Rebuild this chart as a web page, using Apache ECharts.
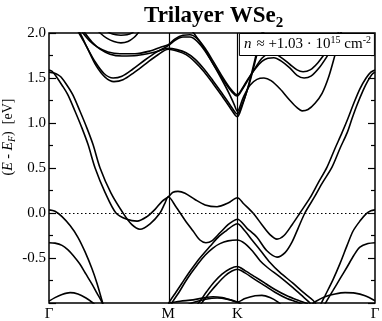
<!DOCTYPE html>
<html>
<head>
<meta charset="utf-8">
<script src="https://cdn.jsdelivr.net/npm/echarts@6/dist/echarts.min.js"></script>
<style>
  html, body { margin: 0; padding: 0; background: #fff; }
  #bands { width: 382px; height: 321px; }
</style>
</head>
<body>
<div id="bands"></div>
<script>
// k path in units of 2pi/a : Gamma - M - K - Gamma
var kTicks = [0, 0.577, 0.911, 1.577];
var kLabels = ['Γ', 'M', 'K', 'Γ'];

// bands, [k, E - EF (eV)]
var c1a = [[0,1.59],[0.015,1.575],[0.034,1.52],[0.063,1.42],[0.092,1.31],[0.126,1.13],[0.160,0.94],[0.189,0.76],[0.223,0.50],[0.271,0.23],[0.324,0.0],[0.377,-0.07],[0.426,-0.09],[0.474,-0.04],[0.513,0.04],[0.547,0.13],[0.577,0.18],
  [0.600,0.23],[0.624,0.24],[0.658,0.22],[0.706,0.15],[0.755,0.09],[0.813,0.07],[0.866,0.11],[0.911,0.17],
  [0.943,0.10],[0.987,0.0],[1.030,-0.13],[1.069,-0.24],[1.103,-0.29],[1.137,-0.25],[1.176,-0.13],[1.214,0.0],[1.263,0.17],[1.301,0.33],[1.345,0.51],[1.384,0.72],[1.417,0.89],[1.446,1.05],[1.471,1.2],[1.504,1.38],[1.534,1.50],[1.557,1.565],[1.577,1.59]];
var c1b = [[0,1.565],[0.024,1.555],[0.044,1.535],[0.058,1.51],[0.087,1.42],[0.116,1.31],[0.150,1.13],[0.184,0.94],[0.213,0.76],[0.247,0.50],[0.300,0.22],[0.358,0.0],[0.401,-0.13],[0.440,-0.18],[0.489,-0.12],[0.537,0.0],[0.561,0.11],[0.577,0.18],
  [0.614,0.07],[0.658,-0.08],[0.697,-0.20],[0.730,-0.30],[0.759,-0.33],[0.788,-0.31],[0.827,-0.22],[0.866,-0.13],[0.890,-0.09],[0.911,-0.07],
  [0.958,-0.17],[1.006,-0.27],[1.054,-0.42],[1.103,-0.49],[1.142,-0.44],[1.176,-0.32],[1.205,-0.17],[1.238,0.0],[1.282,0.17],[1.321,0.33],[1.369,0.51],[1.408,0.72],[1.442,0.89],[1.466,1.05],[1.490,1.2],[1.519,1.36],[1.543,1.47],[1.562,1.54],[1.577,1.565]];

var vg1 = [[0,0.035],[0.029,0.02],[0.063,-0.04],[0.102,-0.14],[0.140,-0.27],[0.174,-0.43],[0.208,-0.62],[0.232,-0.78],[0.256,-0.97],[0.266,-1.05]];
var vg1r = [[1.311,-1.03],[1.335,-0.92],[1.374,-0.74],[1.408,-0.56],[1.442,-0.36],[1.471,-0.20],[1.504,-0.09],[1.534,-0.01],[1.557,0.025],[1.577,0.035]];
var vg2 = [[0,-0.33],[0.029,-0.335],[0.063,-0.36],[0.092,-0.41],[0.116,-0.47],[0.150,-0.57],[0.179,-0.68],[0.208,-0.79],[0.232,-0.89],[0.256,-0.99],[0.266,-1.05]];
var vg2r = [[1.330,-1.03],[1.345,-0.97],[1.374,-0.86],[1.408,-0.73],[1.442,-0.6],[1.475,-0.47],[1.504,-0.38],[1.543,-0.34],[1.577,-0.33]];
var vg3 = [[0,-0.98],[0.029,-0.94],[0.063,-0.905],[0.102,-0.885],[0.140,-0.90],[0.179,-0.945],[0.213,-1.0],[0.227,-1.03]];
var vg3r = [[1.263,-1.03],[1.292,-0.98],[1.335,-0.93],[1.384,-0.90],[1.432,-0.885],[1.480,-0.89],[1.529,-0.92],[1.577,-0.975]];

var v1a = [[0.571,-1.05],[0.585,-0.98],[0.614,-0.88],[0.643,-0.78],[0.672,-0.68],[0.697,-0.6],[0.730,-0.5],[0.779,-0.37],[0.818,-0.27],[0.861,-0.19],[0.890,-0.14],[0.911,-0.12],
  [0.948,-0.2],[0.982,-0.3],[1.021,-0.41],[1.069,-0.55],[1.117,-0.66],[1.180,-0.78],[1.229,-0.88],[1.277,-0.97],[1.296,-1.03]];
var v1b = [[0.585,-1.05],[0.600,-0.98],[0.629,-0.88],[0.658,-0.77],[0.687,-0.67],[0.716,-0.58],[0.755,-0.47],[0.793,-0.39],[0.827,-0.34],[0.866,-0.31],[0.911,-0.30],
  [0.948,-0.34],[0.987,-0.43],[1.021,-0.53],[1.054,-0.60],[1.117,-0.71],[1.180,-0.83],[1.229,-0.93],[1.258,-0.99],[1.272,-1.04]];
var v2a = [[0.706,-1.05],[0.730,-0.98],[0.764,-0.87],[0.798,-0.77],[0.837,-0.68],[0.876,-0.62],[0.911,-0.595],
  [0.948,-0.64],[0.997,-0.71],[1.045,-0.78],[1.093,-0.85],[1.151,-0.92],[1.205,-0.97],[1.253,-1.01]];
var v2b = [[0.721,-1.05],[0.745,-0.98],[0.779,-0.88],[0.813,-0.79],[0.851,-0.70],[0.885,-0.645],[0.911,-0.625],
  [0.948,-0.665],[0.997,-0.74],[1.045,-0.81],[1.093,-0.88],[1.151,-0.95],[1.200,-0.99],[1.238,-1.03]];
var vb1 = [[0.577,-1.0],[0.634,-0.98],[0.697,-0.965],[0.755,-0.94],[0.793,-0.93],[0.837,-0.94],[0.876,-0.965],[0.911,-0.99],
  [0.948,-0.95],[0.997,-0.92],[1.030,-0.915],[1.069,-0.94],[1.108,-0.99],[1.127,-1.03]];
var vb2 = [[0.658,-1.03],[0.706,-0.99],[0.764,-0.955],[0.813,-0.945],[0.866,-0.96],[0.911,-0.99],[0.939,-1.03]];

var c2a = [[0.131,2.05],[0.145,2.0],[0.179,1.86],[0.223,1.68],[0.266,1.55],[0.310,1.50],[0.353,1.52],[0.406,1.60],[0.464,1.70],[0.522,1.79],[0.577,1.86],
  [0.610,1.92],[0.648,1.955],[0.682,1.955],[0.716,1.91],[0.755,1.80],[0.793,1.66],[0.837,1.50],[0.876,1.37],[0.900,1.31],[0.911,1.30],
  [0.934,1.37],[0.963,1.48],[0.997,1.61],[1.030,1.72],[1.059,1.765],[1.088,1.77],[1.122,1.73],[1.166,1.65],[1.200,1.59],[1.229,1.57],[1.263,1.59],[1.301,1.67],[1.340,1.79],[1.374,1.91],[1.398,2.0],[1.413,2.05]];
var c3a = [[0.150,2.05],[0.164,2.0],[0.198,1.91],[0.237,1.84],[0.285,1.79],[0.343,1.77],[0.416,1.77],[0.489,1.80],[0.537,1.84],[0.577,1.87],
  [0.610,1.935],[0.648,1.975],[0.682,1.98],[0.716,1.94],[0.755,1.83],[0.793,1.69],[0.837,1.52],[0.876,1.385],[0.900,1.325],[0.911,1.315],
  [0.934,1.38],[0.963,1.49],[0.997,1.60],[1.030,1.685],[1.059,1.72],[1.088,1.725],[1.122,1.69],[1.166,1.61],[1.200,1.53],[1.234,1.50],[1.267,1.52],[1.306,1.61],[1.345,1.74],[1.379,1.87],[1.408,1.99],[1.417,2.04]];
var c2b = [[0.135,2.05],[0.150,2.0],[0.184,1.84],[0.227,1.64],[0.271,1.51],[0.314,1.46],[0.358,1.48],[0.411,1.56],[0.469,1.66],[0.522,1.75],[0.577,1.82],
  [0.619,1.80],[0.663,1.76],[0.706,1.68],[0.750,1.57],[0.793,1.44],[0.837,1.30],[0.876,1.17],[0.900,1.09],[0.911,1.07],
  [0.924,1.12],[0.943,1.25],[0.963,1.40],[0.982,1.57],[1.001,1.75],[1.016,1.88],[1.030,2.0],[1.040,2.06]];
var c3b = [[0.160,2.05],[0.174,2.0],[0.208,1.90],[0.247,1.82],[0.295,1.765],[0.353,1.745],[0.426,1.75],[0.498,1.78],[0.542,1.81],[0.577,1.83],
  [0.619,1.815],[0.663,1.78],[0.706,1.71],[0.750,1.60],[0.793,1.47],[0.837,1.33],[0.876,1.20],[0.900,1.12],[0.911,1.10],
  [0.924,1.15],[0.948,1.29],[0.968,1.43],[0.987,1.59],[1.006,1.76],[1.026,1.91],[1.040,2.02],[1.050,2.07]];
var c5 = [[0.682,2.05],[0.706,1.98],[0.745,1.85],[0.788,1.68],[0.832,1.50],[0.871,1.33],[0.895,1.21],[0.911,1.13],
  [0.939,1.28],[0.972,1.42],[1.006,1.485],[1.040,1.50],[1.074,1.47],[1.117,1.38],[1.166,1.25],[1.200,1.17],[1.224,1.135],[1.253,1.15],[1.287,1.22],[1.321,1.33],[1.354,1.52],[1.384,1.76],[1.403,1.92],[1.417,2.03]];
var c4a = [[0.232,2.04],[0.247,2.0],[0.281,1.94],[0.314,1.905],[0.348,1.89],[0.382,1.905],[0.411,1.95],[0.431,2.0],[0.445,2.04]];
var c4b = [[0.276,2.03],[0.295,2.0],[0.324,1.98],[0.348,1.975],[0.377,1.98],[0.401,2.0],[0.416,2.03]];

var bands = [c1a, c1b, vg1, vg1r, vg2, vg2r, vg3, vg3r, v1a, v1b, v2a, v2b, vb1, vb2,
  c2a, c3a, c2b, c3b, c5, c4a, c4b];

var serif = 'Liberation Serif';
var chart = echarts.init(document.getElementById('bands'));

var series = bands.map(function (b) {
  return {
    type: 'line',
    data: b,
    showSymbol: false,
    smooth: 0.3,
    silent: true,
    lineStyle: { color: '#000', width: 1.6 }
  };
});
// high symmetry lines and Fermi level
series[0].markLine = {
  silent: true,
  symbol: ['none', 'none'],
  label: { show: false },
  lineStyle: { color: '#000', width: 1.2, type: 'solid' },
  data: [
    { xAxis: kTicks[1] },
    { xAxis: kTicks[2] },
    { yAxis: 0, lineStyle: { type: [1.5, 2.5], width: 1.2, color: '#000' } }
  ]
};

chart.setOption({
  animation: false,
  title: [
    {
      text: '{b|Trilayer WSe}{s|2}',
      left: 139,
      top: -3,
      textStyle: {
        rich: {
          b: { fontFamily: serif, fontSize: 23, fontWeight: 'bold', color: '#000', lineHeight: 29 },
          s: { fontFamily: serif, fontSize: 15, fontWeight: 'bold', color: '#000', lineHeight: 15, verticalAlign: 'bottom' }
        }
      }
    },
    {
      text: '{i|n} {t|≈ +1.03 · 10}{p|15}{t| cm}{p|-2}',
      right: 7,
      top: 33,
      backgroundColor: '#fff',
      borderColor: '#000',
      borderWidth: 1,
      padding: [2, 4, 2, 5],
      textStyle: {
        fontWeight: 'normal',
        rich: {
          i: { fontFamily: serif, fontSize: 15, fontStyle: 'italic', fontWeight: 'normal', color: '#000', lineHeight: 19 },
          t: { fontFamily: serif, fontSize: 15, fontWeight: 'normal', color: '#000', lineHeight: 19 },
          p: { fontFamily: serif, fontSize: 10, fontWeight: 'normal', color: '#000', lineHeight: 13, verticalAlign: 'top' }
        }
      }
    }
  ],
  grid: {
    left: 49, right: 7, top: 33, bottom: 18,
    outerBoundsMode: 'none',
    show: true, borderColor: '#000', borderWidth: 1.5, backgroundColor: 'transparent'
  },
  xAxis: {
    type: 'value',
    min: kTicks[0],
    max: kTicks[3],
    axisLine: { show: false },
    splitLine: { show: false },
    axisTick: { show: false },
    axisLabel: {
      customValues: kTicks,
      showMinLabel: true,
      showMaxLabel: true,
      margin: 4,
      color: '#000',
      fontFamily: serif,
      fontSize: 15,
      formatter: function (v) {
        for (var i = 0; i < kTicks.length; i++) {
          if (Math.abs(kTicks[i] - v) < 1e-6) return kLabels[i];
        }
        return '';
      }
    }
  },
  yAxis: [
    {
      type: 'value',
      min: -1, max: 2, interval: 0.5,
      name: '({i|E} - {i|E}{s|F})  [eV]',
      nameLocation: 'middle',
      nameRotate: 90,
      nameGap: 32,
      nameMoveOverlap: false,
      nameTextStyle: {
        padding: [0, 0, 0, 62],
        rich: {
          i: { fontFamily: serif, fontSize: 14, fontStyle: 'italic', color: '#000', lineHeight: 18 },
          s: { fontFamily: serif, fontSize: 10, fontStyle: 'italic', color: '#000', lineHeight: 10, verticalAlign: 'bottom' }
        },
        fontFamily: serif, fontSize: 14, color: '#000'
      },
      axisLine: { show: false },
      splitLine: { show: false },
      axisTick: { show: true, inside: true, length: 7, lineStyle: { color: '#000', width: 1.2 } },
      minorTick: { show: true, splitNumber: 2, length: 4, lineStyle: { color: '#000', width: 1.2 } },
      axisLabel: {
        margin: 3,
        color: '#000',
        fontFamily: serif,
        fontSize: 15,
        formatter: function (v) { return v <= -1 ? '' : v.toFixed(1); }
      }
    },
    {
      type: 'value',
      position: 'right',
      min: -1, max: 2, interval: 0.5,
      axisLine: { show: false },
      splitLine: { show: false },
      axisTick: { show: true, inside: true, length: 7, lineStyle: { color: '#000', width: 1.2 } },
      minorTick: { show: true, splitNumber: 2, length: 4, lineStyle: { color: '#000', width: 1.2 } },
      axisLabel: { show: false }
    }
  ],
  series: series
});
</script>
</body>
</html>
